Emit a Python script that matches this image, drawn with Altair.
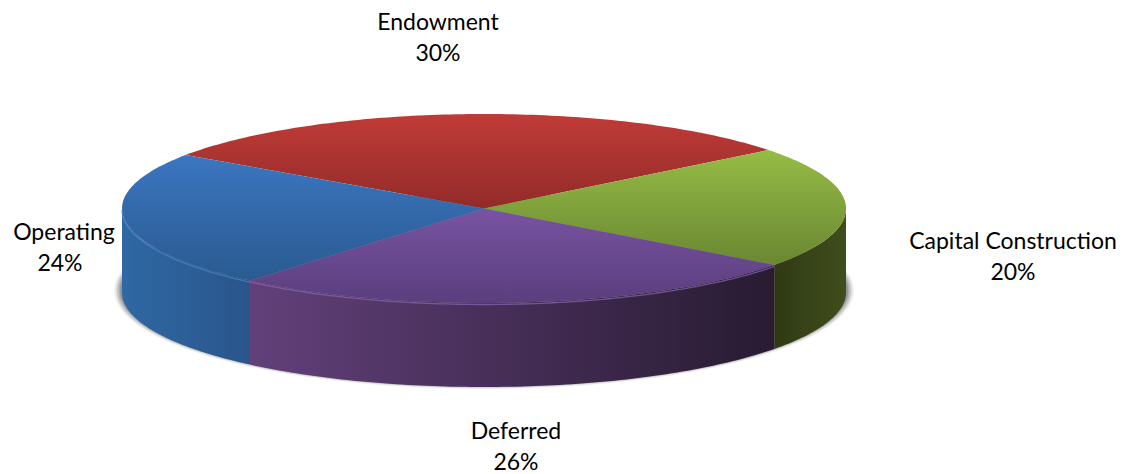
import math
import altair as alt
import pandas as pd

# Values
categories = ["Endowment", "Capital Construction", "Deferred", "Operating"]
percent_labels = ["30%", "20%", "26%", "24%"]
shares = [29.8, 20.8, 26.0, 23.4]
top_colors = [("#c03b37", "#922b29"), ("#95bc45", "#6a8732"), ("#7853a2", "#5a3e7d"), ("#3b76c0", "#2a5a90")]
side_colors = {"Operating": ("#2f68a4", "#29558a"),
               "Deferred": ("#62407a", "#281b32"),
               "Capital Construction": ("#2f3a14", "#404d1c")}
bevel_colors = {"Operating": "#4a86cc", "Deferred": "#8a68b4"}

# Layout of the tilted pie, in page pixels
CX, CY, RX, RY, DEPTH = 484, 208.5, 362, 94.5, 84
START = 214.5
W, H = 1109, 466
label_at = {"Endowment": (438, 23), "Capital Construction": (1013, 242),
            "Deferred": (516, 432), "Operating": (64, 233)}
LINE = 31


def pt(t, dy=0, rx=RX, ry=RY, cx=CX, cy=CY):
    a = math.radians(t)
    return cx + rx * math.cos(a), cy + ry * math.sin(a) + dy


def arc(t0, t1, dy=0):
    n = max(2, int(abs(t1 - t0)) + 1)
    return [pt(t0 + (t1 - t0) * i / (n - 1), dy) for i in range(n)]


xs = alt.Scale(domain=[8, 8 + W], nice=False, zero=False)
ys = alt.Scale(domain=[8 + H, 8], nice=False, zero=False)


def grad(c0, c1, vertical=True):
    return alt.Gradient(
        gradient="linear", x1=0, x2=0 if vertical else 1, y1=0, y2=1 if vertical else 0,
        stops=[alt.GradientStop(color=c0, offset=0), alt.GradientStop(color=c1, offset=1)],
    )


def poly(points, **mark):
    df = pd.DataFrame({"x": [p[0] for p in points], "y": [p[1] for p in points], "i": range(len(points))})
    return alt.Chart(df).mark_line(**mark).encode(
        x=alt.X("x:Q", scale=xs, axis=None),
        y=alt.Y("y:Q", scale=ys, axis=None),
        order="i:Q",
    )


layers = []

# soft shadow under the disc
for grow, op in [(8, 0.08), (6.5, 0.12), (5, 0.16), (3.5, 0.22), (2, 0.3)]:
    pts = [pt(t, 0, RX + grow, RY + grow * 0.5, CX, CY + DEPTH - 2) for t in range(0, 361, 2)]
    layers.append(poly(pts, fill="#555555", fillOpacity=op, stroke="transparent", interpolate="linear-closed"))

# slice boundaries from the shares
bounds = {}
t = START
for name, s in zip(categories, shares):
    bounds[name] = (t, t + s * 3.6)
    t += s * 3.6

# outer wall: the part of each slice that faces the viewer (angles 360..540)
for name, (c0, c1) in side_colors.items():
    a, b = bounds[name]
    a, b = max(a, 360), min(b, 540)
    pts = arc(a, b) + arc(b, a, DEPTH)
    layers.append(poly(pts, fill=grad(c0, c1, vertical=False), stroke="transparent", interpolate="linear-closed"))

# top faces
for name, (c0, c1) in zip(categories, top_colors):
    a, b = bounds[name]
    pts = [(CX, CY)] + arc(a, b)
    layers.append(poly(pts, fill=grad(c0, c1), stroke="transparent", interpolate="linear-closed"))

# light bevel along the front rim
for name, col in bevel_colors.items():
    a, b = bounds[name]
    b = min(b, 540)
    layers.append(poly(arc(a, b, 1.5), stroke=col, strokeWidth=1.3, strokeOpacity=0.7))

# labels
rows = []
for name, pct in zip(categories, percent_labels):
    lx, ly = label_at[name]
    rows.append({"x": lx, "y": ly, "text": name})
    rows.append({"x": lx - (4 if name == "Operating" else 0), "y": ly + LINE, "text": pct})
labels = alt.Chart(pd.DataFrame(rows)).mark_text(
    font="Lato", fontSize=23, color="#000000", align="center", baseline="middle"
).encode(
    x=alt.X("x:Q", scale=xs, axis=None),
    y=alt.Y("y:Q", scale=ys, axis=None),
    text="text:N",
)
layers.append(labels)

chart = alt.layer(*layers).properties(
    width=W, height=H, padding=0, autosize=alt.AutoSizeParams(type="none"), background="#ffffff"
).configure_view(stroke=None)

chart.save("out.html", embed_options={"renderer": "svg", "actions": False})
